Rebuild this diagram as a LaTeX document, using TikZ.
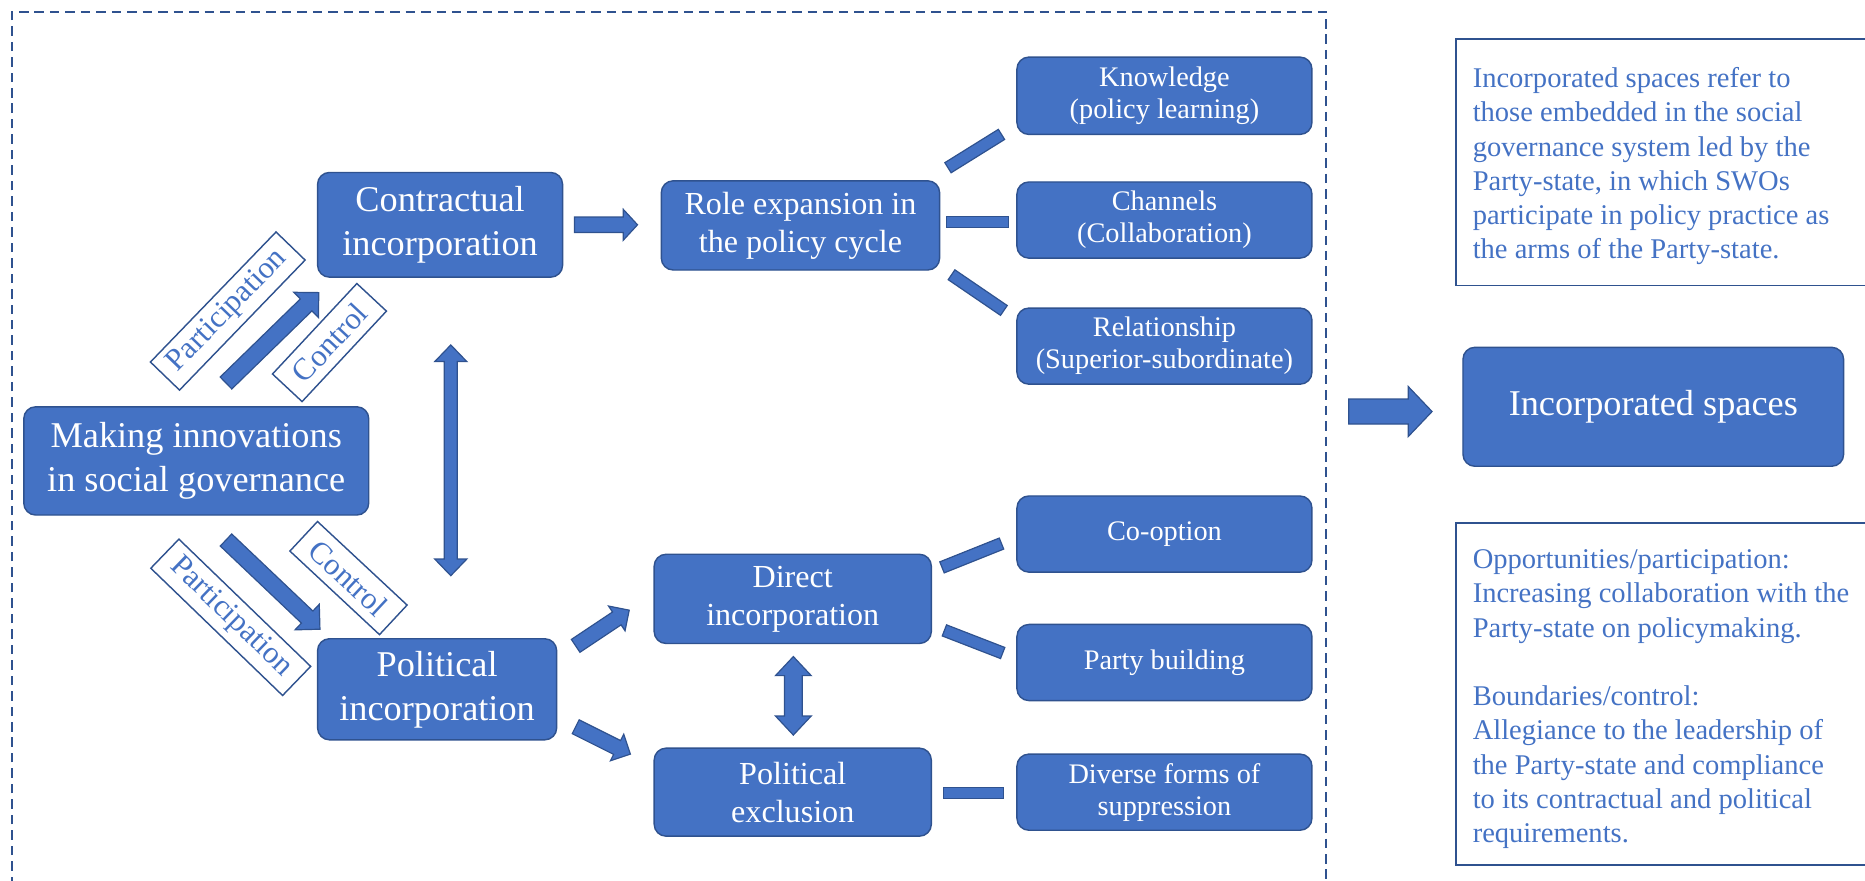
\documentclass[tikz,border=0pt]{standalone}
\usepackage{fontspec}
\setmainfont{Liberation Serif}
\usetikzlibrary{calc}
\definecolor{boxblue}{HTML}{4472C4}
\definecolor{edgeblue}{HTML}{2F528F}

\tikzset{
  every node/.style={inner sep=0pt},
  card/.style={draw=edgeblue, fill=boxblue, line width=1.2pt, rounded corners=10pt,
    text=white, align=center},
  bigcard/.style={card, font=\fontsize{30.5}{37}\selectfont},
  midcard/.style={card, font=\fontsize{27}{32}\selectfont},
  smallcard/.style={card, font=\fontsize{23.8}{27}\selectfont},
  tag/.style={draw=edgeblue, fill=white, line width=1.2pt, text=boxblue,
    font=\fontsize{26}{30}\selectfont, minimum height=34pt},
  notebox/.style={draw=edgeblue, line width=1.5pt},
  notetext/.style={text=boxblue, font=\fontsize{24}{28.8}\selectfont, align=left,
    anchor=north west},
  blockshape/.style={draw=edgeblue, fill=boxblue, line width=1pt, line join=miter},
  frame/.style={draw=edgeblue, line width=1.4pt, dash pattern=on 8pt off 5pt},
}

% single-headed block arrow: from, to, shaft half width, head half width, head length
\newcommand\blockarrow[5]{%
  \draw[blockshape] let \p1=(#1), \p2=(#2),
      \n1={atan2(\y2-\y1,\x2-\x1)}, \n2={veclen(\x2-\x1,\y2-\y1)} in
    ($(\p1)+(\n1+90:#3)$)
    -- ($(\p1)+(\n1:\n2-#5)+(\n1+90:#3)$)
    -- ($(\p1)+(\n1:\n2-#5)+(\n1+90:#4)$)
    -- (\p2)
    -- ($(\p1)+(\n1:\n2-#5)+(\n1-90:#4)$)
    -- ($(\p1)+(\n1:\n2-#5)+(\n1-90:#3)$)
    -- ($(\p1)+(\n1-90:#3)$) -- cycle;}

% double-headed block arrow: from, to, shaft half width, head half width, head length
\newcommand\twowayarrow[5]{%
  \draw[blockshape] let \p1=(#1), \p2=(#2),
      \n1={atan2(\y2-\y1,\x2-\x1)}, \n2={veclen(\x2-\x1,\y2-\y1)} in
    (\p1)
    -- ($(\p1)+(\n1:#5)+(\n1+90:#4)$)
    -- ($(\p1)+(\n1:#5)+(\n1+90:#3)$)
    -- ($(\p1)+(\n1:\n2-#5)+(\n1+90:#3)$)
    -- ($(\p1)+(\n1:\n2-#5)+(\n1+90:#4)$)
    -- (\p2)
    -- ($(\p1)+(\n1:\n2-#5)+(\n1-90:#4)$)
    -- ($(\p1)+(\n1:\n2-#5)+(\n1-90:#3)$)
    -- ($(\p1)+(\n1:#5)+(\n1-90:#3)$)
    -- ($(\p1)+(\n1:#5)+(\n1-90:#4)$) -- cycle;}

% plain connecting bar: from, to, half thickness
\newcommand\linkbar[3]{%
  \draw[blockshape] let \p1=(#1), \p2=(#2), \n1={atan2(\y2-\y1,\x2-\x1)} in
    ($(\p1)+(\n1+90:#3)$) -- ($(\p2)+(\n1+90:#3)$)
    -- ($(\p2)+(\n1-90:#3)$) -- ($(\p1)+(\n1-90:#3)$) -- cycle;}

\begin{document}
\begin{tikzpicture}[x=1pt, y=-1pt]
\useasboundingbox (0,0) rectangle (1568,740);

% dashed frame around the model
\draw[frame] (10,745) -- (10,10) -- (1115,10) -- (1115,745);

% main boxes
\node[bigcard, minimum width=290pt, minimum height=91pt] (making) at (165,387.5)
  {Making innovations\\in social governance};
\node[bigcard, minimum width=206pt, minimum height=88pt] (contr) at (370,189)
  {Contractual\\incorporation};
\node[bigcard, minimum width=201pt, minimum height=85pt] (polit) at (367.5,579.5)
  {Political\\incorporation};
\node[midcard, minimum width=234pt, minimum height=75pt] (role) at (673,189.5)
  {Role expansion in\\the policy cycle};
\node[midcard, minimum width=233pt, minimum height=75pt] (direct) at (666.5,503.5)
  {Direct\\incorporation};
\node[midcard, minimum width=233pt, minimum height=74pt] (excl) at (666.5,666)
  {Political\\exclusion};

\node[smallcard, minimum width=248pt, minimum height=65pt] (know) at (979,80.5)
  {Knowledge\\(policy learning)};
\node[smallcard, minimum width=248pt, minimum height=64pt] (chan) at (979,185)
  {Channels\\(Collaboration)};
\node[smallcard, minimum width=248pt, minimum height=64pt] (rel) at (979,291)
  {Relationship\\(Superior-subordinate)};
\node[smallcard, minimum width=248pt, minimum height=64pt] (coopt) at (979,449)
  {Co-option};
\node[smallcard, minimum width=248pt, minimum height=64pt] (party) at (979,557)
  {Party building};
\node[smallcard, minimum width=248pt, minimum height=64pt] (supp) at (979,666)
  {Diverse forms of\\suppression};

\node[bigcard, minimum width=320pt, minimum height=100pt] (incsp) at (1390,342)
  {Incorporated spaces};

% participation / control tags
\node[tag, minimum width=152pt, rotate=46] (tagPup) at (191.5,261.5) {Participation};
\node[tag, minimum width=104pt, rotate=47] (tagCup) at (277,288) {Control};
\node[tag, minimum width=154pt, rotate=-44] (tagPdn) at (194,519) {Participation};
\node[tag, minimum width=103pt, rotate=-43] (tagCdn) at (293,486) {Control};

% arrow end points
\coordinate (contrOut) at (483,189);   \coordinate (roleIn) at (536,189);
\coordinate (makeUp) at (190,322);     \coordinate (contrIn) at (268,246);
\coordinate (makeDn) at (190,454);     \coordinate (politIn) at (269,529);
\coordinate (politUp) at (484,543);    \coordinate (directIn) at (529,513);
\coordinate (politDn) at (484,611);    \coordinate (exclIn) at (530,634);
\coordinate (contrBot) at (379,290);   \coordinate (politTop) at (379,484);
\coordinate (directBot) at (667,552);  \coordinate (exclTop) at (667,618);
\coordinate (frameOut) at (1134,346);  \coordinate (incspIn) at (1204,346);

\blockarrow{contrOut}{roleIn}{6.5pt}{13pt}{12pt}
\blockarrow{makeUp}{contrIn}{7pt}{14.8pt}{14.8pt}
\blockarrow{makeDn}{politIn}{7pt}{14.8pt}{14.8pt}
\blockarrow{politUp}{directIn}{6.5pt}{12.5pt}{12.5pt}
\blockarrow{politDn}{exclIn}{6.5pt}{12.5pt}{12.5pt}
\twowayarrow{contrBot}{politTop}{5.5pt}{13.5pt}{14pt}
\twowayarrow{directBot}{exclTop}{7.5pt}{15pt}{16pt}
\blockarrow{frameOut}{incspIn}{10.5pt}{21pt}{20pt}

% bars to the detail boxes
\coordinate (roleA) at (797,141);   \coordinate (knowIn) at (842,113);
\coordinate (roleB) at (796,186.5); \coordinate (chanIn) at (848,186.5);
\coordinate (roleC) at (800,231);   \coordinate (relIn) at (844,261);
\coordinate (directA) at (792,477); \coordinate (cooptIn) at (842,457);
\coordinate (directB) at (794,530); \coordinate (partyIn) at (843,549);
\coordinate (exclA) at (793,666.5); \coordinate (suppIn) at (844,666.5);

\linkbar{roleA}{knowIn}{5pt}
\linkbar{roleB}{chanIn}{4.5pt}
\linkbar{roleC}{relIn}{5pt}
\linkbar{directA}{cooptIn}{5pt}
\linkbar{directB}{partyIn}{5pt}
\linkbar{exclA}{suppIn}{4.5pt}

% explanatory notes
\draw[notebox] (1224,33) rectangle (1580,240);
\node[notetext] (defn) at (1238,56.5)
  {Incorporated spaces refer to\\those embedded in the social\\governance system led by the\\Party-state, in which SWOs\\participate in policy practice as\\the arms of the Party-state.};

\draw[notebox] (1224,440) rectangle (1580,727);
\node[notetext] (oppbound) at (1238,462)
  {Opportunities/participation:\\Increasing collaboration with the\\Party-state on policymaking.\\[28.8pt]Boundaries/control:\\Allegiance to the leadership of\\the Party-state and compliance\\to its contractual and political\\requirements.};
\end{tikzpicture}
\end{document}
